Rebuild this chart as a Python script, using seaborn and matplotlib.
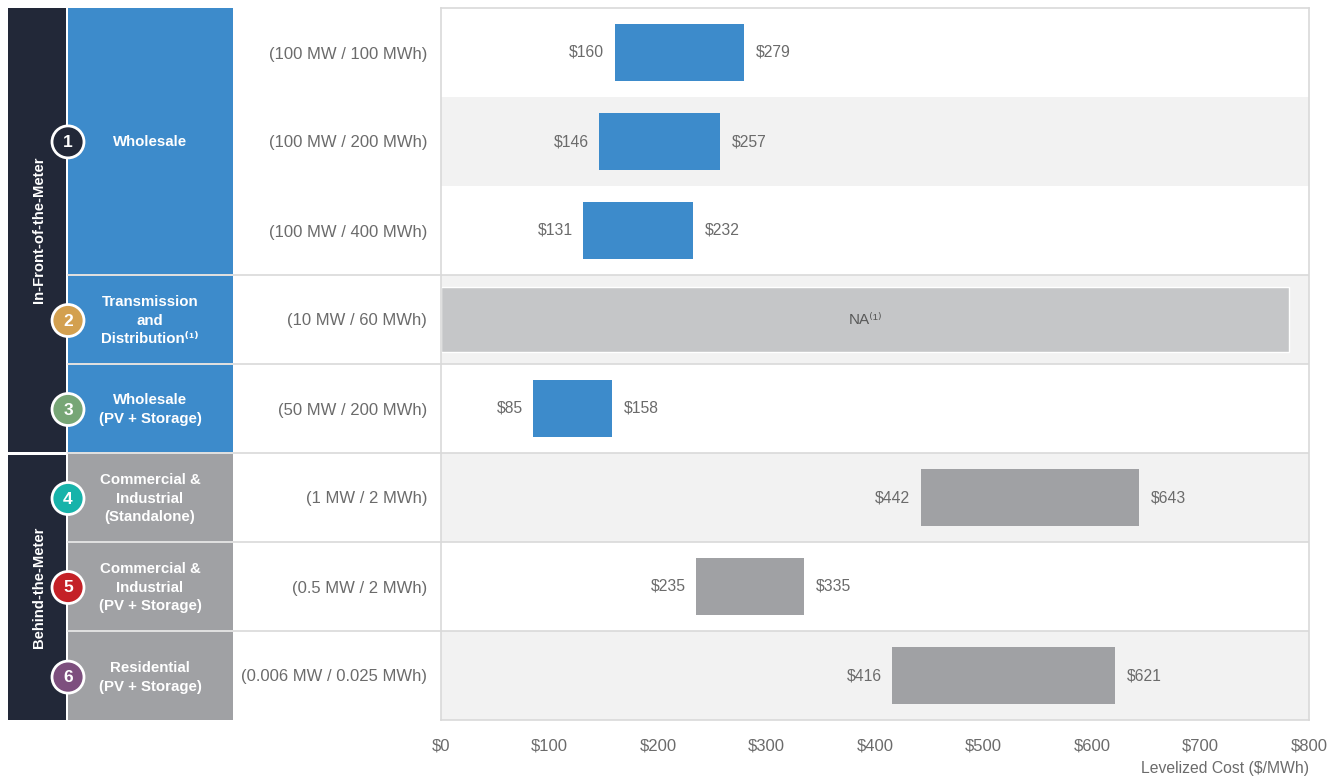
import numpy as np
import pandas as pd
import matplotlib
matplotlib.use("Agg")
import matplotlib.pyplot as plt
from matplotlib.patches import Rectangle, Circle
import seaborn as sns

# ---- data -------------------------------------------------------------
sizes = ["(100 MW / 100 MWh)", "(100 MW / 200 MWh)", "(100 MW / 400 MWh)",
         "(10 MW / 60 MWh)", "(50 MW / 200 MWh)", "(1 MW / 2 MWh)",
         "(0.5 MW / 2 MWh)", "(0.006 MW / 0.025 MWh)"]
low = [160, 146, 131, np.nan, 85, 442, 235, 416]
high = [279, 257, 232, np.nan, 158, 643, 335, 621]
side = ["In-Front-of-the-Meter"] * 5 + ["Behind-the-Meter"] * 3

use_cases = ["Wholesale", "Transmission\nand\nDistribution\u207d\u00b9\u207e",
             "Wholesale\n(PV + Storage)",
             "Commercial &\nIndustrial\n(Standalone)",
             "Commercial &\nIndustrial\n(PV + Storage)",
             "Residential\n(PV + Storage)"]
use_case_rows = [3, 1, 1, 1, 1, 1]
use_case_ids = ["1", "2", "3", "4", "5", "6"]
sides = ["In-Front-of-the-Meter", "Behind-the-Meter"]
side_rows = [5, 3]

na_row = 3
na_extent = 782
na_label = "NA\u207d\u00b9\u207e"

x_ticks = [0, 100, 200, 300, 400, 500, 600, 700, 800]
x_label = "Levelized Cost ($/MWh)"

# ---- style --------------------------------------------------------------
sns.set_theme(style="white")
plt.rcParams["font.family"] = ["Liberation Sans", "DejaVu Sans"]

NAVY = "#222838"
BLUE = "#3d8bcb"
BOX_GRAY = "#a0a1a4"
NA_GRAY = "#c5c6c8"
BAND = "#f2f2f2"
LINE = "#d9d9d9"
TXT = "#6b6b6b"
circle_colors = [NAVY, "#d3a04f", "#77a676", "#17b3aa", "#c42127", "#7d4f7e"]

W, H = 1341, 778
fig = plt.figure(figsize=(W / 100, H / 100), dpi=100)

# main plot region in pixels
AX_L, AX_R, AX_T, AX_B = 441, 1309, 8, 720
n_rows = len(sizes)
row_h = (AX_B - AX_T) / n_rows

ax = fig.add_axes([AX_L / W, 1 - AX_B / H, (AX_R - AX_L) / W, (AX_B - AX_T) / H])

df = pd.DataFrame({"size": sizes, "low": low, "high": high, "side": side})
valid = df.dropna()

sns.barplot(data=valid, x="high", y="size", hue="side", order=sizes,
            hue_order=sides, palette={sides[0]: BLUE, sides[1]: BOX_GRAY},
            orient="h", width=0.63, dodge=False, legend=False, ax=ax,
            saturation=1, zorder=2)

# turn each bar into a floating low-high range
for container in ax.containers:
    for patch in container:
        if np.isnan(patch.get_width()):
            continue
        r = int(round(patch.get_y() + patch.get_height() / 2))
        if np.isnan(low[r]):
            continue
        patch.set_x(low[r])
        patch.set_width(high[r] - low[r])
        patch.set_edgecolor("none")

# alternating background bands
for r in range(n_rows):
    if r % 2 == 1:
        ax.axhspan(r - 0.5, r + 0.5, color=BAND, zorder=0, lw=0)
# separators between use cases
for b in [2.5, 3.5, 4.5, 5.5, 6.5]:
    ax.axhline(b, color=LINE, lw=1.2, zorder=0.5)

for r in range(n_rows):
    if np.isnan(low[r]):
        continue
    ax.annotate(f"${low[r]:.0f}", xy=(low[r], r), xytext=(-7.5, 0),
                textcoords="offset points", ha="right", va="center",
                fontsize=11.3, color=TXT)
    ax.annotate(f"${high[r]:.0f}", xy=(high[r], r), xytext=(8.5, 0),
                textcoords="offset points", ha="left", va="center",
                fontsize=11.3, color=TXT)

# row without an estimate
ax.barh(na_row, na_extent, height=0.74, color=NA_GRAY, zorder=2)
ax.text(na_extent / 2, na_row, na_label, ha="center", va="center",
        fontsize=11, color="#595959", zorder=3)

ax.set_xlim(0, 800)
ax.set_ylim(n_rows - 0.5, -0.5)
ax.set_xticks(x_ticks)
ax.set_xticklabels([f"${t}" for t in x_ticks], fontsize=12, color=TXT)
ax.set_yticks(range(n_rows))
ax.set_yticklabels(sizes, fontsize=12, color=TXT)
ax.tick_params(axis="both", length=0)
ax.tick_params(axis="y", pad=10)
ax.tick_params(axis="x", pad=13)
ax.set_xlabel("")
ax.set_ylabel("")
for sp in ax.spines.values():
    sp.set_visible(True)
    sp.set_color(LINE)
    sp.set_linewidth(1.2)
ax.set_facecolor("white")

fig.text(AX_R / W, 1 - 769 / H, x_label, ha="right", va="center",
         fontsize=11.3, color=TXT)

# ---- left panel: meter side and use case boxes --------------------------
ov = fig.add_axes([0, 0, 1, 1], zorder=3)
ov.set_xlim(0, W)
ov.set_ylim(H, 0)
ov.axis("off")

def row_top(r):
    return AX_T + r * row_h

# meter side columns
start = 0
for name, n in zip(sides, side_rows):
    y0 = row_top(start) + (0 if start == 0 else 1.5)
    y1 = row_top(start + n) - (1.5 if start + n < n_rows else 0)
    ov.add_patch(Rectangle((8, y0), 58, y1 - y0, color=NAVY, lw=0))
    ov.text(39, (y0 + y1) / 2, name, rotation=90, ha="center", va="center",
            color="white", fontsize=10.6, fontweight="bold")
    start += n

# separator lines across the size-label area
for r in [3, 4, 5, 6, 7]:
    ov.plot([68, AX_L], [row_top(r), row_top(r)], color=LINE, lw=1.2)

# use case boxes with numbered badges
start = 0
for i, (label, n) in enumerate(zip(use_cases, use_case_rows)):
    y0 = row_top(start) + (0 if start == 0 else 1.2)
    y1 = row_top(start + n) - (1.2 if start + n < n_rows else 0)
    color = BLUE if side[start] == sides[0] else BOX_GRAY
    ov.add_patch(Rectangle((68, y0), 165, y1 - y0, color=color, lw=0))
    cy = (y0 + y1) / 2
    ov.text(150, cy + 1, label, ha="center", va="center", color="white",
            fontsize=10.8, fontweight="bold", linespacing=1.45)
    ov.add_patch(Circle((68, cy + 1), 16, facecolor=circle_colors[i],
                        edgecolor="white", lw=2, zorder=4))
    ov.text(68, cy + 1.5, use_case_ids[i], ha="center", va="center",
            color="white", fontsize=12.5, fontweight="bold", zorder=5)
    start += n

fig.savefig("out.png", dpi=100)
